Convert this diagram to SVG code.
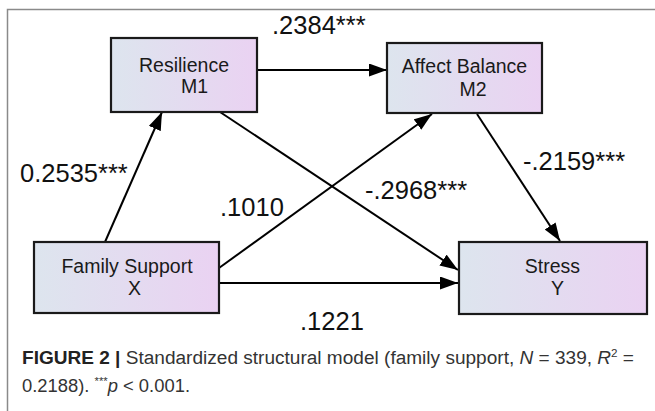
<svg xmlns="http://www.w3.org/2000/svg" width="655" height="411" viewBox="0 0 655 411">
<defs>
<linearGradient id="g" x1="0" y1="0" x2="1" y2="0">
<stop offset="0" stop-color="#dde5ee"/>
<stop offset="1" stop-color="#ead2f2"/>
</linearGradient>
<marker id="ah" markerUnits="userSpaceOnUse" markerWidth="20" markerHeight="14" refX="18" refY="6.5" orient="auto">
<path d="M0,0 L18,6.5 L0,13 z" fill="#000"/>
</marker>
<style>
.box{fill:url(#g);stroke:#1a1a1a;stroke-width:2.2}
.nt{font-family:"Liberation Sans",Arial,sans-serif;font-size:19.5px;fill:#1a1a1a}
.cf{font-family:"Liberation Sans",Arial,sans-serif;font-size:25.5px;fill:#111}
.ln{stroke:#000;stroke-width:2;fill:none;marker-end:url(#ah)}
.cap{font-family:"Liberation Sans",Arial,sans-serif;font-size:18px;fill:#333}
</style>
</defs>
<rect x="0" y="0" width="655" height="411" fill="#fff"/>
<path d="M7.5,411 V9.5 H655" fill="none" stroke="#8a8a8a" stroke-width="1.5"/>
<g id="connectors">
<line class="ln" x1="105" y1="242" x2="162" y2="112"/>
<line class="ln" x1="257" y1="70" x2="387" y2="70"/>
<line class="ln" x1="220" y1="112" x2="458" y2="270"/>
<line class="ln" x1="219" y1="268" x2="432" y2="114"/>
<line class="ln" x1="219" y1="283" x2="458" y2="283"/>
<line class="ln" x1="477" y1="114" x2="560" y2="241"/>
<text class="cf" x="272" y="34">.2384***</text>
<text class="cf" x="20" y="182">0.2535***</text>
<text class="cf" x="220" y="216">.1010</text>
<text class="cf" x="365" y="199">-.2968***</text>
<text class="cf" x="523" y="170">-.2159***</text>
<text class="cf" x="300" y="330">.1221</text>
</g>
<g id="m1">
<rect class="box" x="111" y="38" width="146" height="74"/>
<text class="nt" x="184" y="72" text-anchor="middle">Resilience</text>
<text class="nt" x="194.5" y="93" text-anchor="middle">M1</text>
</g>
<g id="m2">
<rect class="box" x="387" y="43" width="155" height="70"/>
<text class="nt" x="464.5" y="73" text-anchor="middle">Affect Balance</text>
<text class="nt" x="473" y="96" text-anchor="middle">M2</text>
</g>
<g id="x">
<rect class="box" x="34" y="242" width="185" height="71"/>
<text class="nt" x="127" y="273" text-anchor="middle">Family Support</text>
<text class="nt" x="134.5" y="295" text-anchor="middle">X</text>
</g>
<g id="y">
<rect class="box" x="459" y="242" width="188" height="72"/>
<text class="nt" x="552.5" y="273" text-anchor="middle">Stress</text>
<text class="nt" x="557.5" y="295" text-anchor="middle">Y</text>
</g>
<g id="caption">
<text class="cap" x="22" y="364" textLength="612" lengthAdjust="spacingAndGlyphs"><tspan font-weight="bold" fill="#222">FIGURE 2 |</tspan> Standardized structural model (family support, <tspan font-style="italic">N</tspan> = 339, <tspan font-style="italic">R</tspan><tspan font-size="11" dy="-7">2</tspan><tspan dy="7"> =</tspan></text>
<text class="cap" x="22" y="392" textLength="168" lengthAdjust="spacingAndGlyphs">0.2188). <tspan font-size="11" dy="-7">***</tspan><tspan font-style="italic" dy="7">p</tspan> &lt; 0.001.</text>
</g>
</svg>
